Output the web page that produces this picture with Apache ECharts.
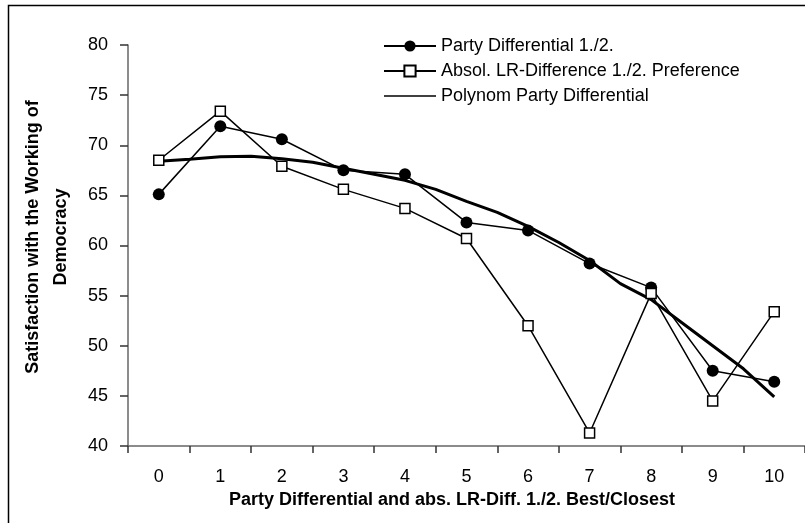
<!DOCTYPE html>
<html>
<head>
<meta charset="utf-8">
<script src="https://cdn.jsdelivr.net/npm/echarts@6/dist/echarts.min.js"></script>
<style>
html,body{margin:0;padding:0;background:#fff;}
#chart{width:805px;height:523px;}
</style>
</head>
<body>
<div id="chart"></div>
<script>
var categories = ['0','1','2','3','4','5','6','7','8','9','10'];
var partyDiff = [65.1, 71.9, 70.6, 67.5, 67.1, 62.3, 61.5, 58.2, 55.8, 47.5, 46.4];
var absolLR = [68.5, 73.4, 67.9, 65.6, 63.7, 60.7, 52.0, 41.3, 55.2, 44.5, 53.4];
var polyX = [0, 0.5, 1, 1.5, 2, 2.5, 3, 3.5, 4, 4.5, 5, 5.5, 6, 6.5, 7, 7.5, 8, 8.5, 9, 9.5, 10];
var polyY = [68.4, 68.6, 68.85, 68.9, 68.65, 68.3, 67.7, 67.1, 66.5, 65.6, 64.4, 63.3, 61.9, 60.3, 58.5, 56.2, 54.6, 52.3, 50.0, 47.7, 44.9];
var yTicks = {min: 40, max: 80, interval: 5};
var names = ['Party Differential 1./2.', 'Absol. LR-Difference 1./2. Preference', 'Polynom Party Differential'];

var polyData = polyX.map(function (x, i) { return [x, polyY[i]]; });
var font = '"Liberation Sans", Arial, sans-serif';

var chart = echarts.init(document.getElementById('chart'));
chart.setOption({
  animation: false,
  backgroundColor: '#fff',
  grid: {left: 128, right: -2, top: 45, bottom: 77},
  legend: {
    orient: 'vertical',
    left: 378, top: 32,
    itemWidth: 52, itemHeight: 14, itemGap: 7,
    textStyle: {fontFamily: font, fontSize: 18, color: '#000'},
    data: [
      {name: names[0]},
      {name: names[1]},
      {name: names[2], lineStyle: {width: 1.5}, itemStyle: {opacity: 0}}
    ]
  },
  xAxis: [{
    type: 'category',
    data: categories,
    boundaryGap: true,
    axisLine: {show: true, onZero: false, lineStyle: {color: '#666', width: 1.5}},
    axisTick: {show: true, interval: 0, inside: false, length: 7, lineStyle: {color: '#333', width: 1.5}},
    axisLabel: {fontFamily: font, fontSize: 18, color: '#000', margin: 22},
    splitLine: {show: false}
  }, {
    type: 'value',
    min: -0.5, max: 10.5,
    show: false,
    position: 'bottom'
  }],
  yAxis: {
    type: 'value',
    min: yTicks.min, max: yTicks.max, interval: yTicks.interval,
    axisLine: {show: true, onZero: false, lineStyle: {color: '#666', width: 1.5}},
    axisTick: {show: true, inside: false, length: 8, lineStyle: {color: '#333', width: 1.5}},
    axisLabel: {fontFamily: font, fontSize: 18, color: '#000', margin: 20},
    splitLine: {show: false}
  },
  series: [{
    name: names[2],
    type: 'line',
    xAxisIndex: 1,
    data: polyData,
    symbol: 'none',
    lineStyle: {color: '#000', width: 3},
    itemStyle: {color: '#000'},
    z: 1
  }, {
    name: names[0],
    type: 'line',
    xAxisIndex: 0,
    data: partyDiff,
    symbol: 'circle',
    symbolSize: 12,
    lineStyle: {color: '#000', width: 1.5},
    itemStyle: {color: '#000', borderColor: '#000', borderWidth: 0},
    z: 2
  }, {
    name: names[1],
    type: 'line',
    xAxisIndex: 0,
    data: absolLR,
    symbol: 'rect',
    symbolSize: 10,
    lineStyle: {color: '#000', width: 1.5},
    itemStyle: {color: '#fff', borderColor: '#000', borderWidth: 1.5},
    z: 3
  }],
  graphic: [{
    type: 'rect',
    left: 6, top: 3,
    shape: {width: 830, height: 560},
    style: {fill: 'none', stroke: '#000', lineWidth: 1.5},
    silent: true
  }, {
    type: 'text',
    x: 33, y: 237,
    rotation: Math.PI / 2,
    style: {text: 'Satisfaction with the Working of', font: 'bold 18px ' + font, fill: '#000', textAlign: 'center', textVerticalAlign: 'middle'}
  }, {
    type: 'text',
    x: 61, y: 237,
    rotation: Math.PI / 2,
    style: {text: 'Democracy', font: 'bold 18px ' + font, fill: '#000', textAlign: 'center', textVerticalAlign: 'middle'}
  }, {
    type: 'text',
    x: 452, y: 500,
    style: {text: 'Party Differential and abs. LR-Diff. 1./2. Best/Closest', font: 'bold 18px ' + font, fill: '#000', textAlign: 'center', textVerticalAlign: 'middle'}
  }]
});
</script>
</body>
</html>
